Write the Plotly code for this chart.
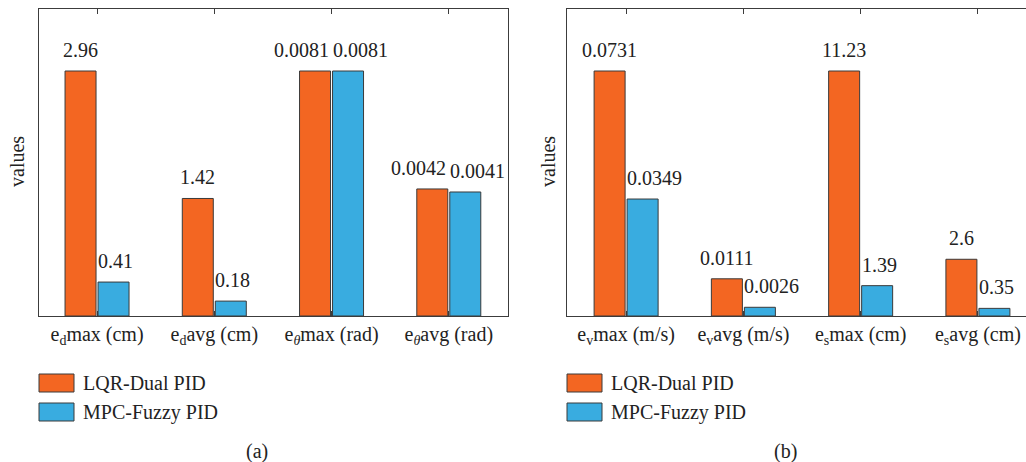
import plotly.graph_objects as go

# ---------------- data ----------------
cats_a = ["e<sub>d</sub>max (cm)", "e<sub>d</sub>avg (cm)",
          "e<sub><i>θ</i></sub>max (rad)", "e<sub><i>θ</i></sub>avg (rad)"]
lqr_a = [2.96, 1.42, 0.0081, 0.0042]
mpc_a = [0.41, 0.18, 0.0081, 0.0041]
group_a = ["d", "d", "theta", "theta"]

cats_b = ["e<sub>v</sub>max (m/s)", "e<sub>v</sub>avg (m/s)",
          "e<sub>s</sub>max (cm)", "e<sub>s</sub>avg (cm)"]
lqr_b = [0.0731, 0.0111, 11.23, 2.6]
mpc_b = [0.0349, 0.0026, 1.39, 0.35]
group_b = ["v", "v", "s", "s"]

series_names = ["LQR-Dual PID", "MPC-Fuzzy PID"]
captions = ["(a)", "(b)"]
y_title = "values"

# ---------------- style ----------------
W, H = 1026, 462
FONT = "'Liberation Serif', 'Times New Roman', 'DejaVu Serif', serif"
ORANGE = "#F36622"
BLUE = "#39ACE0"
EDGE = "#3a3a3a"
AX = "#3c3c3c"
TXT = "#222222"
FS = 20

SPACING = 117.25  # px per category
BW = 31 / SPACING
OFF_O = -32 / SPACING
OFF_B = 1 / SPACING

def px_x(p):
    return p / W

def px_y(p):
    return 1 - p / H

def normalise(lqr, mpc, groups):
    mx = {}
    for g, a, b in zip(groups, lqr, mpc):
        mx[g] = max(mx.get(g, 0), a, b)
    return ([v / mx[g] for v, g in zip(lqr, groups)],
            [v / mx[g] for v, g in zip(mpc, groups)])

fig = go.Figure()
annotations = []
shapes = []

panels = [
    dict(cats=cats_a, lqr=lqr_a, mpc=mpc_a, grp=group_a, xa="x", ya="y",
         dom=[39, 508], rng=[-0.495, 3.505], mirror_y=True, cap_x=257,
         ylab_x=17, leg_x=39),
    dict(cats=cats_b, lqr=lqr_b, mpc=mpc_b, grp=group_b, xa="x2", ya="y2",
         dom=[567, 1026], rng=[-0.504, 3.41], mirror_y=False, cap_x=785,
         ylab_x=548, leg_x=567),
]

Y_TOP, Y_BOT = 9, 316
Y_FULL = 71
ymax = (Y_BOT - Y_TOP) / (Y_BOT - Y_FULL)

for k, p in enumerate(panels):
    n_l, n_m = normalise(p["lqr"], p["mpc"], p["grp"])
    idx = list(range(len(p["cats"])))
    fig.add_trace(go.Bar(x=idx, y=n_l, name=series_names[0], offset=OFF_O,
                         width=BW, marker=dict(color=ORANGE, line=dict(color=EDGE, width=1)),
                         xaxis=p["xa"], yaxis=p["ya"], showlegend=False,
                         hoverinfo="skip"))
    fig.add_trace(go.Bar(x=idx, y=n_m, name=series_names[1], offset=OFF_B,
                         width=BW, marker=dict(color=BLUE, line=dict(color=EDGE, width=1)),
                         xaxis=p["xa"], yaxis=p["ya"], showlegend=False,
                         hoverinfo="skip"))
    # value labels
    for i in idx:
        theta = p["grp"][i] == "theta"
        if theta:
            ox, anc = i + OFF_O + BW, "right"
        else:
            ox, anc = i + OFF_O + BW / 2, "center"
        annotations.append(dict(x=ox, y=n_l[i], xref=p["xa"], yref=p["ya"],
                                text=str(p["lqr"][i]), showarrow=False,
                                xanchor=anc, yanchor="middle", yshift=21,
                                font=dict(family=FONT, size=FS, color=TXT)))
        annotations.append(dict(x=i + OFF_B, y=n_m[i], xref=p["xa"], yref=p["ya"],
                                text=str(p["mpc"][i]), showarrow=False,
                                xanchor="left", xshift=-2, yanchor="middle", yshift=21,
                                font=dict(family=FONT, size=FS, color=TXT)))
    # axes
    xkey = "xaxis" if k == 0 else "xaxis2"
    ykey = "yaxis" if k == 0 else "yaxis2"
    fig.update_layout(**{
        xkey: dict(domain=[px_x(p["dom"][0]), px_x(p["dom"][1])], range=p["rng"],
                   tickmode="array", tickvals=idx, ticktext=p["cats"],
                   ticks="inside", ticklen=5, tickwidth=1, tickcolor=AX,
                   showline=True, linecolor=AX, linewidth=1.3, mirror="ticks",
                   showgrid=False, zeroline=False, anchor=p["ya"],
                   tickfont=dict(family=FONT, size=FS, color=TXT)),
        ykey: dict(domain=[px_y(Y_BOT), px_y(Y_TOP)], range=[0, ymax],
                   showticklabels=False, ticks="", showline=True, linecolor=AX,
                   linewidth=1, mirror=p["mirror_y"], showgrid=False,
                   zeroline=False, anchor=p["xa"]),
    })
    # y title
    annotations.append(dict(x=px_x(p["ylab_x"]), y=px_y(162), xref="paper", yref="paper",
                            text=y_title, textangle=-90, showarrow=False,
                            xanchor="center", yanchor="middle",
                            font=dict(family=FONT, size=FS, color=TXT)))
    # caption
    annotations.append(dict(x=px_x(p["cap_x"]), y=px_y(451), xref="paper", yref="paper",
                            text=captions[k], showarrow=False,
                            xanchor="center", yanchor="middle",
                            font=dict(family=FONT, size=FS, color=TXT)))
    # legend
    for j, (nm, col) in enumerate(zip(series_names, [ORANGE, BLUE])):
        y0 = 374 + j * 29
        shapes.append(dict(type="rect", xref="paper", yref="paper",
                           x0=px_x(p["leg_x"]), x1=px_x(p["leg_x"] + 35),
                           y0=px_y(y0 + 18), y1=px_y(y0),
                           fillcolor=col, line=dict(color=EDGE, width=1)))
        annotations.append(dict(x=px_x(p["leg_x"] + 42), y=px_y(y0 + 9),
                                xref="paper", yref="paper", text=nm,
                                showarrow=False, xanchor="left", yanchor="middle",
                                font=dict(family=FONT, size=FS, color=TXT)))

fig.update_layout(width=W, height=H, margin=dict(l=0, r=0, t=0, b=0),
                  paper_bgcolor="white", plot_bgcolor="white",
                  barmode="overlay", annotations=annotations, shapes=shapes,
                  showlegend=False, font=dict(family=FONT, size=FS, color=TXT))

fig.write_html("out.html")
